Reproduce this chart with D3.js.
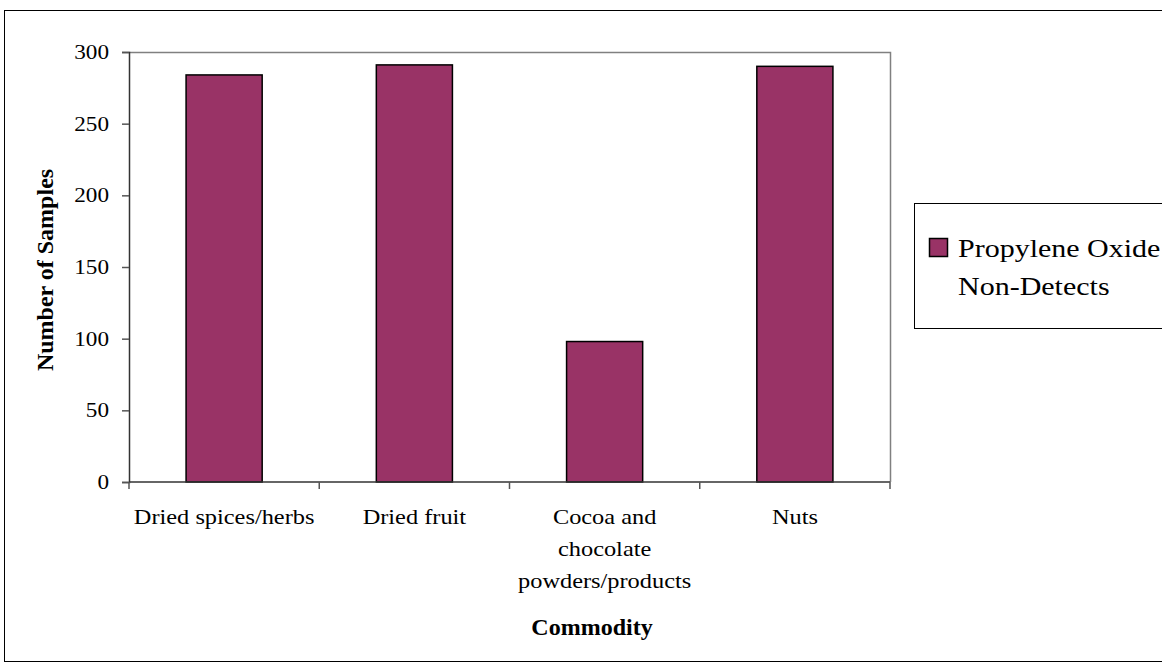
<!DOCTYPE html>
<html lang="en">
<head>
<meta charset="UTF-8">
<script src="https://cdn.jsdelivr.net/npm/d3@7"></script>
<style>
    body, html { margin: 0; padding: 0; background: #fff; }
    #chart { width: 1162px; height: 664px; }
</style>
</head>
<body>
<div id="chart"></div>
<script>
// data
const categories = [["Dried spices/herbs"], ["Dried fruit"], ["Cocoa and", "chocolate", "powders/products"], ["Nuts"]];
const values = [284, 291, 98, 290];
const yTicks = [0, 50, 100, 150, 200, 250, 300];
const seriesName = ["Propylene Oxide", "Non-Detects"];

const W = 1162, H = 664;
const plot = { left: 129, top: 52, right: 890, bottom: 482 };
const font = "'Liberation Serif', 'Times New Roman', serif";
const barColor = "#993366";
const stretch = 1.16; // the original text is a little wider than Liberation Serif

const svg = d3.select("#chart").append("svg").attr("width", W).attr("height", H);

// outer frame
svg.append("rect").attr("x", 4.5).attr("y", 10.5).attr("width", W + 10).attr("height", 651)
    .attr("fill", "#fff").attr("stroke", "#000").attr("stroke-width", 1);

const x = d3.scaleBand().domain(d3.range(categories.length)).range([plot.left, plot.right]);
const y = d3.scaleLinear().domain([0, 300]).range([plot.bottom, plot.top]);

// plot frame (top and right in gray)
svg.append("path")
    .attr("d", `M${plot.left},${plot.top + 0.5}H${plot.right + 0.5}V${plot.bottom}`)
    .attr("fill", "none").attr("stroke", "#808080").attr("stroke-width", 1.5);

// bars
const bw = x.bandwidth() * 0.4;
svg.append("g").selectAll("rect").data(values).enter().append("rect")
    .attr("x", (d, i) => x(i) + (x.bandwidth() - bw) / 2)
    .attr("y", d => y(d))
    .attr("width", bw)
    .attr("height", d => y(0) - y(d))
    .attr("fill", barColor).attr("stroke", "#000").attr("stroke-width", 1.5);

// y axis
const yAxis = svg.append("g").attr("transform", `translate(${plot.left},0)`)
    .call(d3.axisLeft(y).tickValues(yTicks).tickSize(7).tickPadding(13));
yAxis.select(".domain").attr("stroke", "#333").attr("stroke-width", 1.5);
yAxis.selectAll(".tick line").attr("stroke", "#555").attr("stroke-width", 1.5);
yAxis.selectAll(".tick text")
    .attr("font-family", font).attr("font-size", 20).attr("fill", "#000")
    .attr("transform", function () { return `translate(${d3.select(this).attr("x")},0) scale(${stretch},1) translate(${-d3.select(this).attr("x")},0)`; });

// x axis line and ticks at band edges
const edges = d3.range(categories.length + 1).map(i => i < categories.length ? x(i) : plot.right);
svg.append("line").attr("x1", plot.left).attr("x2", plot.right).attr("y1", plot.bottom).attr("y2", plot.bottom)
    .attr("stroke", "#333").attr("stroke-width", 1.5);
svg.append("g").selectAll("line").data(edges).enter().append("line")
    .attr("x1", d => d).attr("x2", d => d).attr("y1", plot.bottom).attr("y2", plot.bottom + 7)
    .attr("stroke", "#555").attr("stroke-width", 1.5);

// category labels
const lab = svg.append("g").selectAll("text").data(categories).enter().append("text")
    .attr("transform", (d, i) => `translate(${x(i) + x.bandwidth() / 2},524) scale(${stretch},1)`)
    .attr("text-anchor", "middle").attr("font-family", font).attr("font-size", 21);
lab.selectAll("tspan").data(d => d).enter().append("tspan")
    .attr("x", 0)
    .attr("dy", (d, i) => i === 0 ? 0 : 32)
    .text(d => d);

// axis titles
svg.append("text").attr("x", 592).attr("y", 635)
    .attr("text-anchor", "middle").attr("font-family", font).attr("font-weight", "bold").attr("font-size", 24)
    .text("Commodity");
svg.append("text").attr("transform", `translate(53,${(plot.top + plot.bottom) / 2 + 3}) rotate(-90)`)
    .attr("text-anchor", "middle").attr("font-family", font).attr("font-weight", "bold").attr("font-size", 24)
    .text("Number of Samples");

// legend
const lg = svg.append("g");
lg.append("rect").attr("x", 914.5).attr("y", 203.5).attr("width", 260).attr("height", 125)
    .attr("fill", "#fff").attr("stroke", "#000").attr("stroke-width", 1);
lg.append("rect").attr("x", 929.5).attr("y", 238.5).attr("width", 18).attr("height", 18)
    .attr("fill", barColor).attr("stroke", "#000").attr("stroke-width", 1.5);
lg.append("text").attr("transform", `translate(958,257) scale(1.2,1)`)
    .attr("font-family", font).attr("font-size", 25)
    .selectAll("tspan").data(seriesName).enter().append("tspan")
    .attr("x", 0).attr("dy", (d, i) => i === 0 ? 0 : 38).text(d => d);
</script>
</body>
</html>
